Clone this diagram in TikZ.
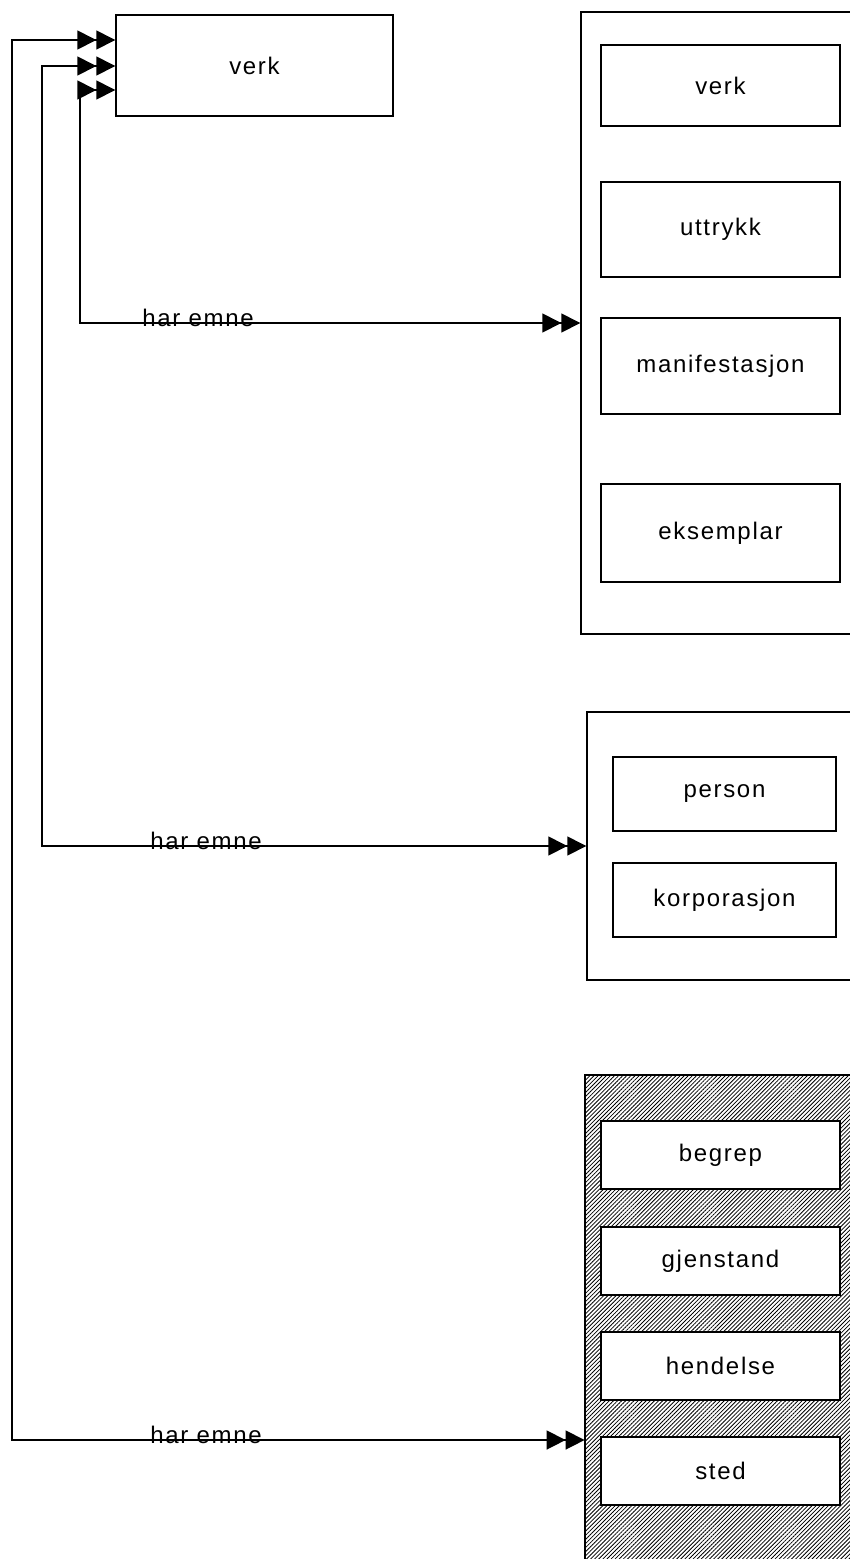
\documentclass[tikz,border=0pt]{standalone}
\usepackage{fontspec}
\setmainfont{Liberation Sans}[LetterSpace=7]
\usetikzlibrary{arrows.meta,patterns.meta}

\begin{document}
\begin{tikzpicture}[x=1pt,y=-1pt,
    every node/.style={font=\fontsize{24}{27}\selectfont},
    box/.style={rectangle, draw, line width=1.4pt, fill=white, inner sep=0pt},
    item/.style={box, minimum width=239pt},
    group/.style={rectangle, draw, line width=1.4pt, inner sep=0pt},
    hatched/.style={pattern={Lines[angle=45,distance=2.9pt,line width=0.8pt]}},
    dart/.tip={Triangle[length=19pt,width=19pt]},
    link/.style={line width=1.5pt, {dart[]dart[]}-{dart[]dart[]}},
    rel/.style={anchor=base, inner sep=0pt}]
    \useasboundingbox (0,0) rectangle (850,1559);

    % the work that has a subject
    \node[box, minimum width=277pt, minimum height=101pt] (verk) at (254.5,65.5) {verk};

    % groups on the right
    \node[group, minimum width=320pt, minimum height=622pt] (gruppe1) at (741,323) {};
    \node[item, minimum height=81pt] (verk2) at (720.5,85.5) {verk};
    \node[item, minimum height=95pt] (uttrykk) at (720.5,229.5) {uttrykk};
    \node[item, minimum height=96pt] (manifestasjon) at (720.5,366) {manifestasjon};
    \node[item, minimum height=98pt] (eksemplar) at (720.5,533) {eksemplar};

    \node[group, minimum width=313pt, minimum height=268pt] (gruppe2) at (743.5,846) {};
    \node[box, minimum width=223pt, minimum height=74pt] (person) at (724.5,794) {person};
    \node[box, minimum width=223pt, minimum height=74pt] (korporasjon) at (724.5,900) {korporasjon};

    \node[group, hatched, minimum width=315pt, minimum height=730pt] (gruppe3) at (742.5,1440) {};
    \node[item, minimum height=68pt] (begrep) at (720.5,1155) {begrep};
    \node[item, minimum height=68pt] (gjenstand) at (720.5,1261) {gjenstand};
    \node[item, minimum height=68pt] (hendelse) at (720.5,1366) {hendelse};
    \node[item, minimum height=68pt] (sted) at (720.5,1471) {sted};

    % har emne
    \draw[link] ([yshift=-24.5pt]verk.west) -| (80,323) -- (gruppe1.west);
    \draw[link] ([yshift=-0.5pt]verk.west) -| (42,846) -- (gruppe2.west);
    \draw[link] ([yshift=25.5pt]verk.west) -| (12,1440) -- (gruppe3.west);
    \node[rel] (emne1) at (198,326) {har emne};
    \node[rel] (emne2) at (206,849) {har emne};
    \node[rel] (emne3) at (206,1443) {har emne};
\end{tikzpicture}
\end{document}
